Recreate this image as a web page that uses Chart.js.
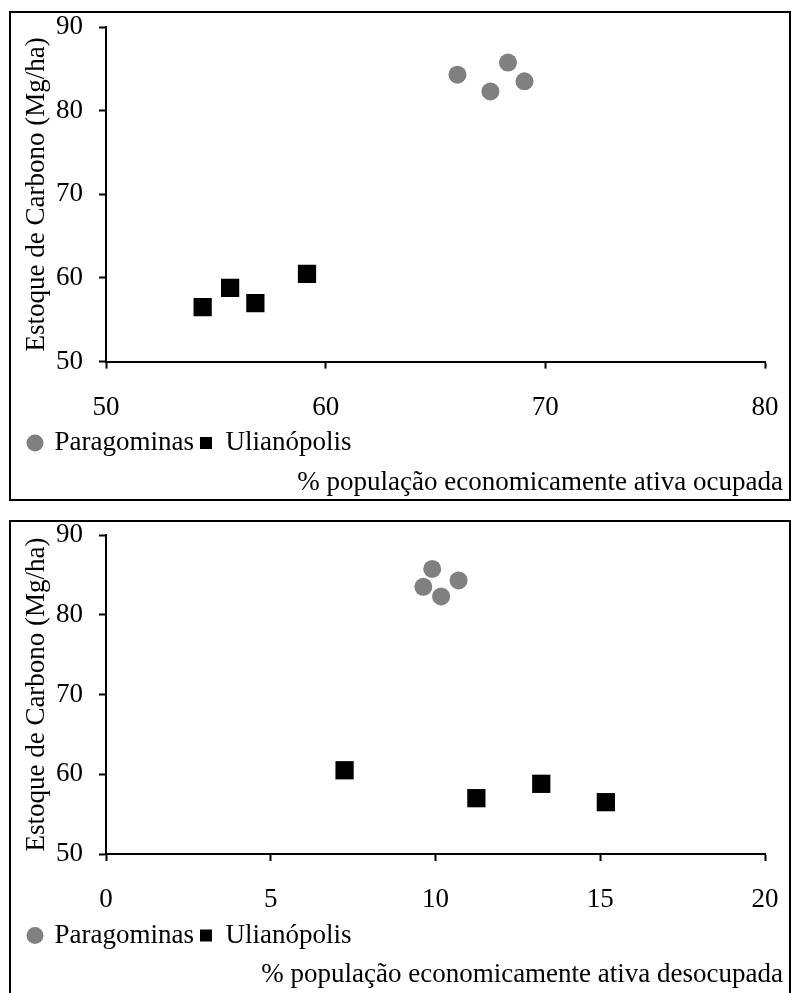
<!DOCTYPE html>
<html>
<head>
<meta charset="utf-8">
<script src="https://cdn.jsdelivr.net/npm/chart.js@4.4.1/dist/chart.umd.min.js"></script>
<style>
    html, body { margin: 0; padding: 0; background: #fff; overflow: hidden; }
    .box { position: absolute; left: 9px; width: 778px; border: 2px solid #000; }
    #boxTop { top: 11px; height: 486px; }
    #boxBottom { top: 520px; height: 475px; }
</style>
</head>
<body>
<div class="box" id="boxTop"><canvas id="chartOcupada"></canvas></div>
<div class="box" id="boxBottom"><canvas id="chartDesocupada"></canvas></div>

<script>
const estoqueParagominas = [84.3, 85.75, 83.5, 82.3];
const estoqueUlianopolis = [56.5, 58.8, 57.0, 60.5];

const ocupadaParagominas = [66.0, 68.3, 69.05, 67.5];
const ocupadaUlianopolis = [54.4, 55.65, 56.8, 59.15];

const desocupadaParagominas = [10.7, 9.9, 9.63, 10.17];
const desocupadaUlianopolis = [15.17, 13.21, 11.24, 7.24];

const seriesNames = ['Paragominas', 'Ulianópolis'];
const yTitle = 'Estoque de Carbono (Mg/ha)';
const yTicks = { min: 50, max: 90, step: 10 };

const FONT = '"Liberation Serif", "Times New Roman", serif';
const FS = 27;

Chart.defaults.font.family = FONT;
Chart.defaults.font.size = FS;
Chart.defaults.color = '#000';

function toPoints(xs, ys) {
    return xs.map((x, i) => ({ x: x, y: ys[i] }));
}

function buildChart(canvasId, xs1, xs2, xTitle, xMin, xMax, xStep, topPad, titlePad) {
    const ctx = document.getElementById(canvasId).getContext('2d');

    return new Chart(ctx, {
        type: 'scatter',
        data: {
            datasets: [
                {
                    label: seriesNames[0],
                    data: toPoints(xs1, estoqueParagominas),
                    pointStyle: 'circle',
                    pointRadius: 9,
                    backgroundColor: '#808080',
                    borderColor: '#808080',
                    borderWidth: 0
                },
                {
                    label: seriesNames[1],
                    data: toPoints(xs2, estoqueUlianopolis),
                    pointStyle: 'rect',
                    pointRadius: 12.9,
                    backgroundColor: '#000',
                    borderColor: '#000',
                    borderWidth: 0
                }
            ]
        },
        options: {
            responsive: true,
            maintainAspectRatio: false,
            animation: false,
            events: [],
            layout: {
                padding: { left: 12, right: 6, top: 0, bottom: 0 }
            },
            plugins: {
                tooltip: { enabled: false },
                legend: {
                    position: 'bottom',
                    align: 'start',
                    labels: {
                        usePointStyle: true,
                        boxWidth: 12,
                        boxHeight: 12,
                        padding: 6,
                        color: '#000',
                        font: { size: FS, family: FONT }
                    }
                },
                title: {
                    display: true,
                    text: xTitle,
                    position: 'bottom',
                    align: 'end',
                    color: '#000',
                    font: { size: FS, family: FONT, weight: 'normal' },
                    padding: titlePad
                }
            },
            scales: {
                x: {
                    type: 'linear',
                    min: xMin,
                    max: xMax,
                    ticks: {
                        stepSize: xStep,
                        padding: 23,
                        color: '#000',
                        font: { size: FS, family: FONT }
                    },
                    grid: {
                        drawOnChartArea: false,
                        drawTicks: true,
                        tickLength: 7,
                        tickWidth: 2,
                        color: '#000'
                    },
                    border: { display: true, color: '#000', width: 2 },
                    afterFit: function(scale) {
                        scale.height = 62;
                        scale.paddingLeft = 0;
                        scale.paddingRight = 24;
                    }
                },
                y: {
                    type: 'linear',
                    min: yTicks.min,
                    max: yTicks.max,
                    ticks: {
                        stepSize: yTicks.step,
                        padding: 16,
                        color: '#000',
                        font: { size: FS, family: FONT }
                    },
                    grid: {
                        drawOnChartArea: false,
                        drawTicks: true,
                        tickLength: 7,
                        tickWidth: 2,
                        color: '#000'
                    },
                    border: { display: true, color: '#000', width: 2 },
                    title: {
                        display: true,
                        text: yTitle,
                        color: '#000',
                        padding: { top: 0, bottom: 0 },
                        font: { size: FS, family: FONT, lineHeight: 1 }
                    },
                    afterFit: function(scale) {
                        scale.width = 83;
                        scale.paddingTop = topPad;
                        scale.paddingBottom = 0;
                    }
                }
            }
        }
    });
}

buildChart('chartOcupada', ocupadaParagominas, ocupadaUlianopolis,
    '% população economicamente ativa ocupada', 50, 80, 10, 14, { top: 0, bottom: 0 });
buildChart('chartDesocupada', desocupadaParagominas, desocupadaUlianopolis,
    '% população economicamente ativa desocupada', 0, 20, 5, 13, { top: 0, bottom: 5.6 });
</script>
</body>
</html>
